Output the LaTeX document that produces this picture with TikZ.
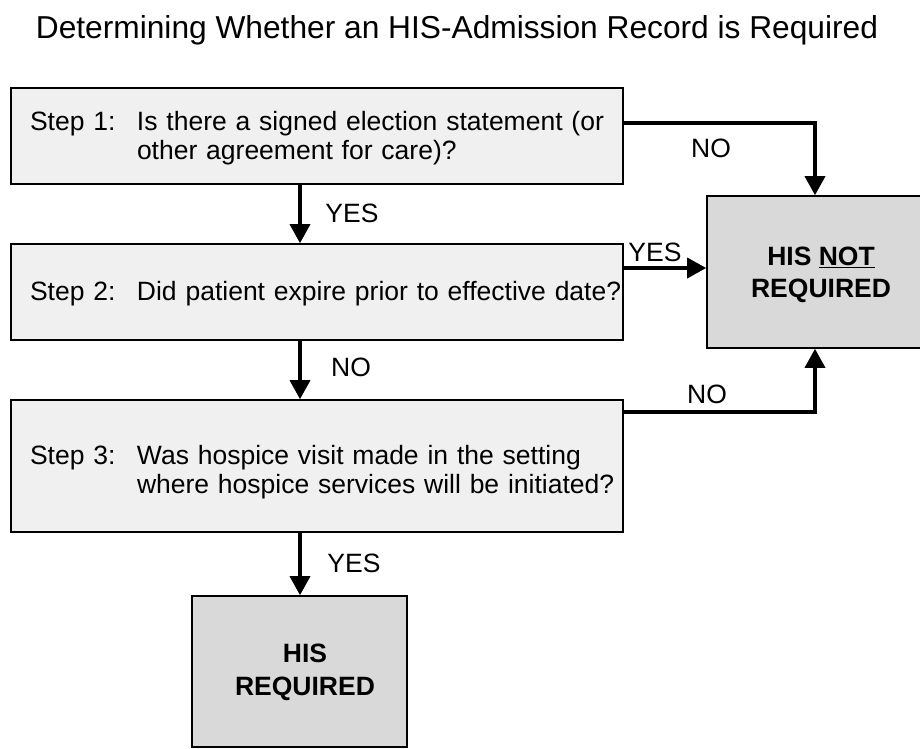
\documentclass[tikz,border=0pt]{standalone}
\usepackage{fontspec}
\setmainfont{Liberation Sans}
\usetikzlibrary{arrows.meta}
\definecolor{stepfill}{HTML}{F0F0F0}
\definecolor{resfill}{HTML}{D9D9D9}
\newcommand{\lowerby}[2]{\raisebox{-#1}[\height][\depth]{#2}}
\begin{document}
\begin{tikzpicture}[x=1pt,y=-1pt,
  stepbox/.style={draw=black,line width=1.6pt,fill=stepfill,minimum width=612pt,inner xsep=19pt,inner ysep=0pt,text width=574pt,align=left,font=\fontsize{26.5}{29.5}\selectfont},
  resbox/.style={draw=black,line width=1.6pt,fill=resfill,align=center,inner sep=0pt,font=\fontsize{26.5}{32.5}\selectfont\bfseries},
  lbl/.style={inner sep=0pt,font=\fontsize{26.5}{30}\selectfont},
  arr/.style={line width=3.5pt,-{Triangle[width=20pt,length=19pt]}}]
\useasboundingbox (0,0) rectangle (920,748);
\node[inner sep=0pt,anchor=base,font=\fontsize{31.7}{36}\selectfont] (title) at (457,38) {Determining Whether an HIS-Admission Record is Required};
\node[stepbox,minimum height=96pt] (b1) at (317,136) {\lowerby{3pt}{\begin{tabular}{@{}p{107pt}@{}l@{}}Step 1: & Is there a signed election statement (or\\ & other agreement for care)?\end{tabular}}};
\node[stepbox,minimum height=96pt] (b2) at (317,292) {\lowerby{3pt}{\begin{tabular}{@{}p{107pt}@{}l@{}}Step 2: & Did patient expire prior to effective date?\end{tabular}}};
\node[stepbox,minimum height=132pt] (b3) at (317,466) {\lowerby{7pt}{\begin{tabular}{@{}p{107pt}@{}l@{}}Step 3: & Was hospice visit made in the setting\\ & where hospice services will be initiated?\end{tabular}}};
\node[resbox,minimum width=228pt,minimum height=152pt] (nr) at (821,272) {\lowerby{3pt}{\begin{tabular}{@{}c@{}}HIS \underline{NOT}\\REQUIRED\end{tabular}}};
\node[resbox,minimum width=215pt,minimum height=151pt] (hr) at (299.5,671.5) {\lowerby{1pt}{\begin{tabular}{@{}c@{}}\hspace*{11pt}HIS\\\hspace*{11pt}REQUIRED\end{tabular}}};
\coordinate (vx) at (300,0);
\coordinate (n1) at (815,123);
\coordinate (y2) at (0,268);
\coordinate (n3) at (815,412);
\draw[arr] (b1.south -| vx) -- (b2.north -| vx);
\draw[arr] (b2.south -| vx) -- (b3.north -| vx);
\draw[arr] (b3.south -| vx) -- (hr.north -| vx);
\draw[arr] (b1.east |- n1) -- (n1) -- (nr.north -| n1);
\draw[arr] (b2.east |- y2) -- (nr.west |- y2);
\draw[arr] (b3.east |- n3) -- (n3) -- (nr.south -| n3);
\node[lbl] (l1) at (352,213) {YES};
\node[lbl] (l2) at (351,367) {NO};
\node[lbl] (l3) at (354,563) {YES};
\node[lbl] (l4) at (711,148) {NO};
\node[lbl] (l5) at (655,252) {YES};
\node[lbl] (l6) at (707,394) {NO};
\end{tikzpicture}
\end{document}
